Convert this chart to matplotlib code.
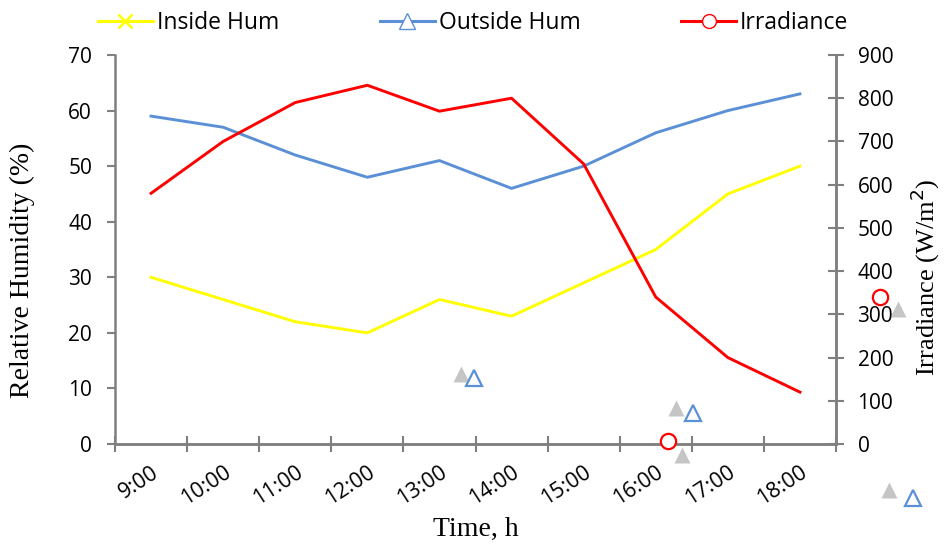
import matplotlib.pyplot as plt
import numpy as np

times = ["9:00", "10:00", "11:00", "12:00", "13:00",
         "14:00", "15:00", "16:00", "17:00", "18:00"]
inside_hum = [30, 26, 22, 20, 26, 23, 29, 35, 45, 50]
outside_hum = [59, 57, 52, 48, 51, 46, 50, 56, 60, 63]
irradiance = [580, 700, 790, 830, 770, 800, 648, 340, 200, 120]

YELLOW = "#FFFF00"
BLUE = "#5B8FD6"
RED = "#FF0000"
GRID = "#808080"

# loose markers left over on the sheet (figure pixels, origin top-left)
stray_marks = [
    ("^", BLUE, 474, 378), ("^", BLUE, 693, 413), ("^", BLUE, 913, 498),
    ("o", RED, 668, 441), ("o", RED, 880, 297),
]
stray_shadows = [(461, 374), (676, 408), (889, 490), (682, 455), (898, 309)]

W, H = 946, 544
fig = plt.figure(figsize=(W / 100, H / 100), dpi=100)
ax = fig.add_axes([115 / W, 1 - 444 / H, (836 - 115) / W, (444 - 55) / H])
ax2 = ax.twinx()

x = np.arange(len(times))
ax.plot(x, inside_hum, color=YELLOW, lw=2.1)
ax.plot(x, outside_hum, color=BLUE, lw=2.1)
ax2.plot(x, irradiance, color=RED, lw=2.1)

ax.set_xlim(-0.5, len(times) - 0.5)
ax.set_ylim(0, 70)
ax.set_yticks(range(0, 71, 10))
ax2.set_ylim(0, 900)
ax2.set_yticks(range(0, 901, 100))

tick_font = dict(family="Open Sans", size=15.5)
ax.set_xticks(np.arange(len(times) + 1) - 0.5)
ax.set_xticklabels([])
ax.set_xticks(x, minor=True)
ax.set_xticklabels(times, minor=True, rotation=33, ha="right", va="top",
                   rotation_mode="anchor", **tick_font)
ax.tick_params(axis="x", which="minor", length=0, pad=13)
ax.tick_params(axis="x", which="major", direction="inout", length=11,
               color=GRID, width=1.5)
ax.tick_params(axis="y", direction="out", length=5.5, color=GRID, width=1.5,
               pad=11)
ax2.tick_params(axis="y", direction="inout", length=11, color=GRID,
                width=1.5, pad=10)
for lab in ax.get_yticklabels() + ax2.get_yticklabels():
    lab.set_fontfamily("Open Sans")
    lab.set_fontsize(15)

for a in (ax, ax2):
    a.spines["top"].set_visible(False)
    for s in ("left", "right", "bottom"):
        a.spines[s].set_color(GRID)
        a.spines[s].set_linewidth(1.8)
ax2.spines["left"].set_visible(False)

label_font = dict(family="Liberation Serif", size=20)
ax.set_ylabel("Relative Humidity (%)", **label_font)
ax.yaxis.set_label_coords(-0.111, 0.447)
ax2.set_ylabel("Irradiance (W/m$^2$)", family="Liberation Serif", size=19)
ax2.yaxis.set_label_coords(1.101, 0.428)
ax.set_xlabel("Time, h", **label_font)
ax.xaxis.set_label_coords(0.5, -0.188)

# legend across the top
handles = [
    plt.Line2D([], [], color=YELLOW, lw=2.2, marker="x", ms=10, mew=1.8),
    plt.Line2D([], [], color=BLUE, lw=2.2, marker="^", ms=11, mfc="white"),
    plt.Line2D([], [], color=RED, lw=2.2, marker="o", ms=10, mfc="white"),
]
fig.legend(handles, ["Inside Hum", "Outside Hum", "Irradiance"],
           loc="center", bbox_to_anchor=(0.5, 1 - 23 / H), ncol=3,
           frameon=False, handlelength=2.4, handletextpad=0.17,
           columnspacing=4.4, borderaxespad=0,
           prop=dict(family="Open Sans", size=16.5))

for (sx, sy) in stray_shadows:
    fig.add_artist(plt.Line2D([sx / W], [1 - sy / H], marker="^", ms=11,
                              color="#8c8c8c", alpha=0.5, mec="none",
                              lw=0, transform=fig.transFigure))
for m, c, sx, sy in stray_marks:
    fig.add_artist(plt.Line2D([sx / W], [1 - sy / H], marker=m, ms=11,
                              mfc="white", mec=c, mew=1.6, lw=0,
                              transform=fig.transFigure))

fig.savefig("out.png", dpi=100)
